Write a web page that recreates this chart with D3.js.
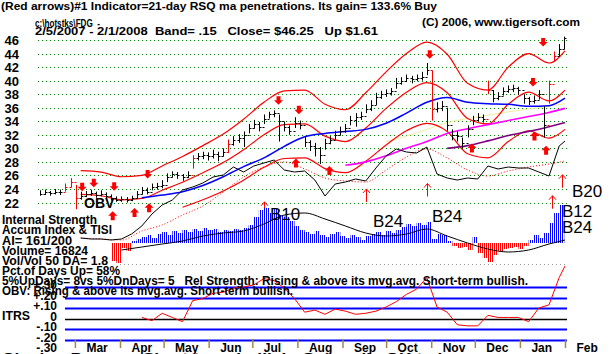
<!DOCTYPE html>
<html>
<head>
<meta charset="utf-8">
<script src="https://cdn.jsdelivr.net/npm/d3@7"></script>
<style>
  body { margin: 0; background: #fff; }
  svg { display: block; font-family: "Liberation Sans", Arial, sans-serif; }
  svg text { white-space: pre; }
</style>
</head>
<body>
<svg id="chart" width="613" height="354"></svg>
<script>
// ---- data (FDG, 2/5/2007 - 2/1/2008) ----
// price bars, two per week
const closes = [23.3,23.5,23.4,23.6,23.5,24.3,25.0,22.6,23.0,23.2,23.4,23.1,23.3,23.0,22.7,22.4,22.5,22.4,22.6,23.3,
  23.8,23.6,24.3,24.4,24.6,25.8,26.2,26.0,25.7,26.1,28.6,28.8,29.0,28.8,29.2,28.9,29.4,30.6,31.2,31.5,
  31.9,33.0,33.6,33.2,34.4,35.0,35.2,34.0,33.2,32.6,33.8,33.5,31.0,30.4,30.0,29.0,30.8,31.2,32.0,32.6,
  33.0,34.2,34.6,34.8,35.8,36.4,37.6,38.0,38.2,38.4,39.6,40.0,40.4,40.2,40.4,40.6,41.5,35.8,36.0,36.3,
  33.4,32.0,31.8,30.8,32.8,34.2,34.6,34.4,38.6,37.4,37.8,38.4,38.8,38.9,38.6,37.4,37.0,37.2,38.0,33.4,
  39.5,43.6,44.6,46.25];
const highs = [23.8,23.9,23.7,24.0,23.9,24.8,25.6,24.6,23.6,23.7,23.9,23.6,23.8,23.5,23.2,22.9,22.9,22.8,23.0,23.7,
  24.3,24.2,24.8,24.9,25.3,26.3,26.6,26.5,26.2,26.6,29.0,29.3,29.5,29.4,29.8,29.5,30.0,31.3,31.8,32.1,
  32.5,33.6,34.2,33.9,35.0,35.4,35.6,35.0,33.9,33.4,34.6,34.1,31.8,31.2,30.8,30.2,31.4,31.8,32.6,33.2,
  33.6,34.8,35.2,35.4,36.5,37.1,38.2,38.5,38.7,38.9,40.4,40.5,40.9,40.7,40.9,41.3,42.6,41.5,36.8,37.0,
  36.0,32.8,32.5,31.6,33.4,34.8,35.2,35.0,40.0,38.6,38.3,39.0,39.3,39.4,39.1,38.0,37.6,37.8,38.6,36.2,
  40.0,44.3,45.4,46.5];
const lows = [23.0,23.1,23.0,23.2,23.1,23.6,24.2,21.0,22.4,22.8,23.0,22.7,22.9,22.6,22.3,22.1,22.1,22.0,22.2,22.6,
  23.2,23.2,23.8,23.9,24.1,25.0,25.7,25.5,25.2,25.6,27.0,28.2,28.4,28.2,28.5,28.1,28.8,29.3,30.4,30.8,
  30.2,32.2,32.9,32.5,33.6,34.4,34.6,31.0,32.5,32.0,33.0,32.8,30.2,29.6,28.8,27.7,29.8,30.6,31.3,31.9,
  32.3,33.4,33.2,34.2,35.2,35.5,36.4,37.3,37.6,37.8,38.8,39.4,39.8,39.6,39.9,40.0,40.8,34.1,35.3,35.5,
  32.6,31.2,31.0,30.0,31.6,33.4,34.0,33.8,38.0,36.8,37.1,37.8,38.2,38.3,37.9,36.6,36.4,36.6,37.2,31.6,
  36.6,42.8,43.6,44.6];
const redBars = [5, 6, 7, 30, 37, 77, 88, 100, 101];

// moving averages and bands, one value every two weeks
const ma21 = [null,null,23.2,23.0,22.4,22.6,23.8,25.0,26.4,27.9,29.8,32.0,33.5,33.6,31.8,31.0,33.0,35.9,38.3,39.7,38.2,34.4,33.6,36.5,38.3,37.0,38.6];
const upperBand = [null,null,26.7,26.5,25.8,26.0,27.4,28.8,30.4,32.1,34.3,36.8,38.5,38.6,36.5,35.7,38.2,41.3,44.0,45.7,43.9,39.6,38.6,42.0,44.0,42.6,44.4];
const lowerBand = [null,null,null,null,null,null,null,21.3,22.4,23.7,25.3,27.2,28.5,28.6,27.0,26.4,28.1,30.5,32.6,33.7,32.5,29.2,28.6,31.0,32.6,31.5,32.8];
const ma50 = [null,null,null,null,null,22.7,23.1,23.6,24.5,25.8,27.3,28.6,30.3,31.7,32.2,32.5,32.8,33.7,35.2,36.8,37.5,36.8,36.6,36.5,36.2,36.3,37.4];
const ma65 = [null,null,null,null,null,null,null,null,null,null,null,null,null,null,null,null,null,31.0,31.8,32.8,33.8,34.4,34.9,35.4,35.8,36.2,36.6];
const ma150 = [null,null,null,null,null,null,null,null,null,null,null,null,null,null,null,27.5,28.0,28.9,30.0,31.0,32.2,32.9,33.5,34.1,34.7,35.3,35.9];
const ma200 = [null,null,null,null,null,null,null,null,null,null,null,null,null,null,null,null,null,null,null,null,30.0,30.4,31.1,31.9,32.5,33.2,33.8];

// OBV (relative units), weekly, and its moving average every two weeks
const obv = [null,null,null,null,2,1,1,0,1,6,14,26,35,40,50,53,57,63,65,73,68,74,77,80,70,68,69,60,44,56,
  58,61,59,72,84,91,88,87,93,66,62,60,62,61,74,71,73,72,72,68,64,94,99];
const obvMa = [null,null,2,1,0,9,15,25,34,48,63,73,78,71,62,59,58,70,83,91,82,70,64,69,73,76,79];

// Accumulation index, two per week, and its moving average every two weeks
const accum = Array(14).fill(null).concat([-18,-20,-5,-8,2,4,6,8,5,9,11,8,12,10,13,11,14,12,15,13,14,11,13,12,14,13,15,18,26,33,
  35,30,34,28,26,22,17,13,11,9,12,8,6,9,11,7,5,8,6,3,7,9,11,8,12,10,13,16,19,17,
  20,18,21,4,9,8,2,-3,-5,-4,-7,6,-10,-15,-19,-12,-8,-6,-5,-4,-6,-3,3,8,5,10,20,30,38,43]);
const accumMa = [null,null,null,null,-7,-4,-1,2,7,10,12,19,28,30,24,17,10,7,9,14,7,0,-6,-9,-7,-1,3];

// ITRS relative strength, weekly
const itrs = Array(10).fill(null).concat([.01,-.02,.05,.01,-.03,.17,.19,.24,.25,.29,.30,.32,.38,.36,.29,.19,.06,.08,.04,.09,
  .07,.04,.05,.07,.11,.16,.23,.28,.39,.11,.06,-.06,-.07,-.07,.03,.01,.01,.01,-.03,.10,.13,.39,.50]);

// signal arrows [date, price]
const downArrows = [["2007-03-06",24.9],["2007-03-14",25.5],["2007-03-28",25.0],["2007-04-20",26.8],["2007-07-19",37.7],
  ["2007-08-02",36.3],["2007-10-31",44.5],["2008-01-10",40.4],["2008-01-17",46.3]];
const upArrows = [["2007-03-27",20.7],["2007-04-11",21.2],["2007-04-21",21.9],["2007-07-31",28.5],["2007-08-23",27.4],
  ["2007-11-29",30.7],["2008-01-11",32.5],["2008-01-19",30.4]];
const thinArrows = [["2007-07-09",22.1],["2007-09-17",24.0],["2007-10-29",24.8],["2008-01-23",23.0],["2008-01-30",26.1]];

const priceTicks = d3.range(22, 47, 2);
const itrsTicks = [0.3, 0.2, 0.1, 0, -0.1, -0.2, -0.3];

// ---- scales ----
const start = new Date(2007, 1, 5), end = new Date(2008, 1, 1);
const x = d3.scaleTime().domain([start, end]).range([40, 565]);
const y = d3.scaleLinear().domain([22, 46]).range([202.5, 40]);
const obvY = d3.scaleLinear().domain([0, 100]).range([240, 140]);
const aiY = d3.scaleLinear().domain([0, 40]).range([243, 203]);
const itrsY = d3.scaleLinear().domain([-0.2, 0.3]).range([339.5, 287]);

const halfWeek = i => d3.timeHour.offset(start, i * 84);
const week = k => k < 52 ? d3.timeDay.offset(start, 7 * k) : end;
const fortnight = k => k < 26 ? d3.timeDay.offset(start, 14 * k) : end;
const parse = d3.timeParse("%Y-%m-%d");
const px = v => Math.round(v) + 0.5;

const svg = d3.select("#chart");
const defs = svg.append("defs");
[["bluePat", "#0000ff"], ["redPat", "#ff0000"]].forEach(([id, c]) => {
  defs.append("pattern").attr("id", id).attr("width", 2).attr("height", 4)
    .attr("patternUnits", "userSpaceOnUse")
    .append("rect").attr("width", 1).attr("height", 4).attr("fill", c);
});

function text(str, tx, ty, size, weight, len, anchor) {
  const t = svg.append("text").attr("x", tx).attr("y", ty)
    .attr("font-size", size).attr("font-weight", weight || "bold")
    .attr("text-anchor", anchor || "start").attr("fill", "#000")
    .attr("xml:space", "preserve").text(str);
  if (len) t.attr("textLength", len).attr("lengthAdjust", "spacingAndGlyphs");
  return t;
}

function plotLine(values, dateOf, scale, color, width, dash, curve) {
  const gen = d3.line()
    .defined(d => d[1] != null)
    .x(d => x(d[0])).y(d => scale(d[1]))
    .curve(curve || d3.curveMonotoneX);
  svg.append("path").datum(values.map((v, k) => [dateOf(k), v]))
    .attr("d", gen).attr("fill", "none")
    .attr("stroke", color).attr("stroke-width", width)
    .attr("stroke-dasharray", dash || null);
}

// ---- price panel ----
svg.append("g").selectAll("line").data(priceTicks).join("line")
  .attr("x1", 38).attr("x2", 567)
  .attr("y1", d => px(y(d))).attr("y2", d => px(y(d)))
  .attr("stroke", "#008000").attr("stroke-dasharray", "1,3");

svg.append("g").selectAll("text").data(priceTicks).join("text")
  .attr("x", 19).attr("y", d => y(d) + 5)
  .attr("text-anchor", "end").attr("font-size", 13).attr("font-weight", "bold")
  .text(d => d);

plotLine(ma65, fortnight, y, "#eeeea0", 1);
plotLine(upperBand, fortnight, y, "#ff0000", 1.2);
plotLine(ma21, fortnight, y, "#ff0000", 1.2);
plotLine(lowerBand, fortnight, y, "#ff0000", 1.2);
plotLine(ma50, fortnight, y, "#0000ff", 1.5);
plotLine(ma150, fortnight, y, "#ff00ff", 1.6);
plotLine(ma200, fortnight, y, "#800080", 1.6);
plotLine(obvMa, fortnight, obvY, "#ff0000", 1, "1,2");
plotLine(obv, week, obvY, "#000", 1, null, d3.curveLinear);

// OHLC-style bars
const bars = svg.append("g").selectAll("g").data(closes).join("g")
  .attr("stroke", (d, i) => redBars.includes(i) ? "#ff0000" : "#000")
  .attr("stroke-width", 1);
bars.append("line")
  .attr("x1", (d, i) => px(x(halfWeek(i)))).attr("x2", (d, i) => px(x(halfWeek(i))))
  .attr("y1", (d, i) => y(highs[i])).attr("y2", (d, i) => y(lows[i]));
bars.append("line")
  .attr("x1", (d, i) => px(x(halfWeek(i)))).attr("x2", (d, i) => px(x(halfWeek(i))) + 2)
  .attr("y1", d => px(y(d))).attr("y2", d => px(y(d)));
bars.filter((d, i) => i > 0).append("line")
  .attr("x1", (d, i) => px(x(halfWeek(i + 1))) - 2).attr("x2", (d, i) => px(x(halfWeek(i + 1))))
  .attr("y1", (d, i) => px(y(closes[i]))).attr("y2", (d, i) => px(y(closes[i])));

// arrows
const arrowG = svg.append("g").attr("fill", "#ff0000").attr("stroke", "none");
downArrows.forEach(([dt, p]) => {
  const cx = x(parse(dt)), top = y(p);
  arrowG.append("path").attr("d",
    `M${cx - 2},${top}h4v4h2.5l-4.5,4.5l-4.5,-4.5h2.5z`);
});
upArrows.forEach(([dt, p]) => {
  const cx = x(parse(dt)), tip = y(p);
  arrowG.append("path").attr("d",
    `M${cx},${tip}l4.5,4.5h-2.5v4.5h-4v-4.5h-2.5z`);
});
thinArrows.forEach(([dt, p]) => {
  const cx = px(x(parse(dt))), tip = y(p);
  svg.append("path").attr("fill", "none").attr("stroke", "#ff0000").attr("stroke-width", 1)
    .attr("d", `M${cx},${tip + 13}V${tip}M${cx - 3.5},${tip + 4}L${cx},${tip}L${cx + 3.5},${tip + 4}`);
});

text("OBV", 84, 208, 14, "bold");

// ---- accumulation index panel ----
const aiPts = accum.map((v, i) => [halfWeek(i), v]);
const aiArea = sign => d3.area()
  .defined(d => d[1] != null)
  .x(d => x(d[0]))
  .y0(aiY(0))
  .y1(d => aiY(sign > 0 ? Math.max(0, d[1]) : Math.min(0, d[1])))
  .curve(d3.curveStepAfter);
svg.append("path").datum(aiPts).attr("d", aiArea(1)).attr("fill", "url(#bluePat)");
svg.append("path").datum(aiPts).attr("d", aiArea(-1)).attr("fill", "url(#redPat)");
plotLine(accumMa, fortnight, aiY, "#000", 1);

svg.append("line").attr("x1", 120).attr("x2", 567).attr("y1", 264.5).attr("y2", 264.5)
  .attr("stroke", "#999").attr("stroke-dasharray", "1,3");

text("B10", 270, 220, 17, "normal");
text("B24", 373, 227, 17, "normal");
text("B24", 432, 222, 17, "normal");
text("B20", 572, 197, 17, "normal");
text("B12", 562, 217, 17, "normal");
text("B24", 562, 233, 17, "normal");

// ---- ITRS panel ----
svg.append("g").selectAll("line").data(itrsTicks.filter(d => d > -0.25)).join("line")
  .attr("x1", 65).attr("x2", 567)
  .attr("y1", d => px(itrsY(d))).attr("y2", d => px(itrsY(d)))
  .attr("stroke", d => d === 0 ? "#000" : "#0000ff")
  .attr("stroke-width", d => d === 0 ? 1.5 : 2);
plotLine(itrs, week, itrsY, "#ff0000", 1, null, d3.curveLinear);

// month axis
const axis = svg.append("g").attr("transform", "translate(0,339)")
  .call(d3.axisBottom(x).ticks(d3.timeMonth.every(1)).tickFormat(d3.timeFormat("%b")).tickSize(9));
axis.select(".domain").remove();
axis.selectAll(".tick line").attr("stroke", "#a08850").attr("stroke-width", 1.5);
axis.selectAll(".tick text")
  .attr("x", 11).attr("y", 13).attr("dy", 0).attr("text-anchor", "start")
  .attr("font-size", 12).attr("font-weight", "bold").attr("font-family", null).attr("fill", "#000");

// ---- text blocks ----
text("(Red arrows)#1 Indicator=21-day RSQ ma penetrations. Its gain= 133.6% Buy", 1, 10, 11, "bold", 436);
text("c:\\hotstks\\FDG  -", 35, 27, 11, "bold", 65);
text("2/5/2007 - 2/1/2008  Band= .15   Close= $46.25   Up $1.61", 35, 35, 11, "bold", 343);
text("(C) 2006, www.tigersoft.com", 422, 26, 11, "bold", 158);

text("Internal Strength", 2, 224, 12, "bold", 95);
text("Accum Index & TISI", 2, 234, 12, "bold", 110);
text("AI= 161/200", 2, 245, 12, "bold", 70);
text("Volume= 16824", 2, 255, 12, "bold", 86);
text("Vol/Vol 50 DA= 1.8", 2, 265, 12, "bold", 106);
text("Pct.of Days Up= 58%", 2, 275, 12, "bold", 118);
text("5%UpDays= 8vs 5%DnDays= 5   Rel Strength: Rising & above its mvg.avg. Short-term bullish.", 2, 285, 12, "bold", 526);
text("OBV: Rising & above its mvg.avg. Short-term bullish.", 2, 295, 12, "bold", 291);
text("Closing Power:   Short-term bullish. Generally OK to buy.", 2, 362, 12, "bold", 470);

text("ITRS", 2, 320, 12, "bold", 28);
svg.append("g").selectAll("text").data(itrsTicks).join("text")
  .attr("x", 57).attr("y", d => itrsY(d) + 2)
  .attr("text-anchor", "end").attr("font-size", 12).attr("font-weight", "bold")
  .text(d => d === 0 ? "0" : (d > 0 ? "+" : "-") + d3.format(".2f")(Math.abs(d)).slice(1));
</script>
</body>
</html>
